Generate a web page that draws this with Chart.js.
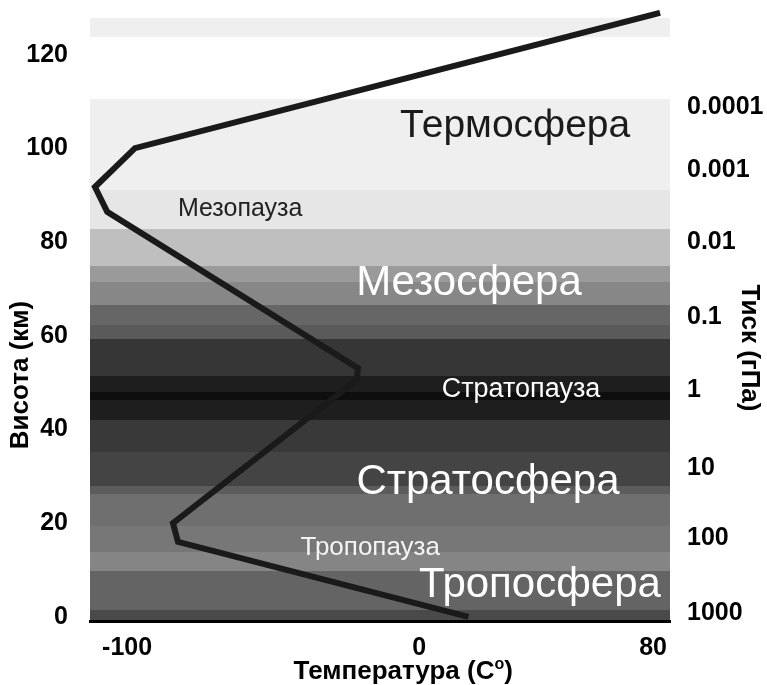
<!DOCTYPE html>
<html>
<head>
<meta charset="utf-8">
<script src="https://cdn.jsdelivr.net/npm/chart.js@4.4.1/dist/chart.umd.min.js"></script>
<style>
  html, body { margin: 0; padding: 0; background: #fff; }
  #wrap { width: 767px; height: 685px; }
</style>
</head>
<body>
<div id="wrap"><canvas id="atmChart" width="767" height="685"></canvas></div>
<script>
// температурний профіль атмосфери: температура (°C) і висота (км)
const profileTemp = [16.8, -82.6, -84.3, -21.4, -21.0, -106.8, -111.0, -97.3, 82.4];
const profileAlt = [0, 16.0, 20.0, 50.6, 53.1, 86.5, 91.8, 100.1, 129];

const altTicks = [0, 20, 40, 60, 80, 100, 120];
const tempTicks = [-100, 0, 80];

// тиск на правій осі
const pressureLabels = ["1000", "100", "10", "1", "0.1", "0.01", "0.001", "0.0001"];
const pressureAlt = [0.85, 16.9, 31.8, 48.5, 64.1, 80.1, 95.4, 108.9];

// смуги фону (км)
const bandBottom = [123.9, 91.2, 82.9, 74.9, 71.6, 66.6, 62.4, 59.4, 51.5, 48.0, 46.3, 42.1, 35.3, 28.0, 26.3, 19.3, 13.8, 9.7, 1.5, -0.9];
const bandTop = [127.9, 110.6, 91.2, 82.9, 74.9, 71.6, 66.6, 62.4, 59.4, 51.5, 48.0, 46.3, 42.1, 35.3, 28.0, 26.3, 19.3, 13.8, 9.7, 1.5];
const bandShade = ["#efefef", "#efefef", "#e6e6e6", "#bfbfbf", "#9a9a9a", "#878787", "#666666", "#5a5a5a", "#363636", "#1e1e1e",
  "#0e0e0e", "#1e1e1e", "#393939", "#444444", "#5c5c5c", "#6f6f6f", "#777777", "#858585", "#646464", "#4a4a4a"];

// назви шарів
const layerNames = ["Термосфера", "Мезопауза", "Мезосфера", "Стратопауза", "Стратосфера", "Тропопауза", "Тропосфера"];
const layerTemp = [32.8, -61.3, 17.0, 34.8, 23.5, -16.8, 41.3];
const layerAlt = [102.5, 85.6, 68.7, 47.0, 26.2, 13.2, 4.3];

const layerStyle = [
  { size: 39, color: "#1b1b1b" },
  { size: 25, color: "#222222" },
  { size: 42, color: "#ffffff" },
  { size: 27, color: "#ffffff" },
  { size: 42, color: "#ffffff" },
  { size: 26, color: "#f4f4f4" },
  { size: 42, color: "#ffffff" }
];

const FONT = "'Liberation Sans', Arial, sans-serif";
const TITLE_FONT = "bold 26px " + FONT;

const atmospherePlugin = {
  id: "atmosphere",
  beforeDraw(chart) {
    const { ctx, chartArea, scales: { y } } = chart;
    ctx.save();
    bandBottom.forEach((b, i) => {
      const top = Math.round(y.getPixelForValue(bandTop[i]));
      const bottom = Math.round(y.getPixelForValue(b));
      ctx.fillStyle = bandShade[i];
      ctx.fillRect(chartArea.left, top, chartArea.right - chartArea.left, bottom - top);
    });
    ctx.restore();
  },
  afterDatasetsDraw(chart) {
    const { ctx, scales: { x, y } } = chart;
    ctx.save();
    ctx.textAlign = "center";
    ctx.textBaseline = "alphabetic";
    layerNames.forEach((name, i) => {
      ctx.font = layerStyle[i].size + "px " + FONT;
      ctx.fillStyle = layerStyle[i].color;
      ctx.fillText(name, x.getPixelForValue(layerTemp[i]), y.getPixelForValue(layerAlt[i]));
    });

    // підписи осей
    ctx.fillStyle = "#000";
    ctx.font = TITLE_FONT;
    ctx.textBaseline = "middle";
    ctx.save();
    ctx.translate(21, 375);
    ctx.rotate(-Math.PI / 2);
    ctx.fillText("Висота (км)", 0, 0);
    ctx.restore();
    ctx.save();
    ctx.translate(749, 348);
    ctx.rotate(Math.PI / 2);
    ctx.fillText("Тиск (гПа)", 0, 0);
    ctx.restore();

    // підпис осі X з надрядковим "o"
    const main = "Температура (C";
    ctx.textBaseline = "alphabetic";
    ctx.font = TITLE_FONT;
    const wMain = ctx.measureText(main).width;
    const wClose = ctx.measureText(")").width;
    ctx.font = "bold 16px " + FONT;
    const wSup = ctx.measureText("o").width;
    const total = wMain + wSup + wClose;
    const cx = x.getPixelForValue(-5.5);
    const base = 679;
    const left = cx - total / 2;
    ctx.textAlign = "left";
    ctx.font = TITLE_FONT;
    ctx.fillText(main, left, base);
    ctx.font = "bold 16px " + FONT;
    ctx.fillText("o", left + wMain, base - 10);
    ctx.font = TITLE_FONT;
    ctx.fillText(")", left + wMain + wSup, base);
    ctx.restore();
  }
};

const ctx = document.getElementById("atmChart").getContext("2d");
new Chart(ctx, {
  type: "scatter",
  data: {
    datasets: [{
      data: profileTemp.map((t, i) => ({ x: t, y: profileAlt[i] })),
      showLine: true,
      borderColor: "#1a1a1a",
      borderWidth: 6,
      borderJoinStyle: "miter",
      pointRadius: 0,
      yAxisID: "y"
    }]
  },
  options: {
    responsive: false,
    devicePixelRatio: 1,
    animation: false,
    layout: { padding: { top: 10, left: 0, right: 0, bottom: 0 } },
    plugins: { legend: { display: false }, tooltip: { enabled: false } },
    scales: {
      x: {
        type: "linear",
        min: -112.7,
        max: 85.8,
        afterBuildTicks: s => { s.ticks = tempTicks.map(v => ({ value: v })); },
        afterFit: s => { s.height = 64; s.paddingLeft = 0; s.paddingRight = 0; },
        ticks: { color: "#000", font: { family: FONT, size: 25, weight: "bold" }, padding: 12, maxRotation: 0 },
        grid: { display: false, drawTicks: false },
        border: { display: true, color: "#000", width: 3 }
      },
      y: {
        type: "linear",
        position: "left",
        min: -0.9,
        max: 129.6,
        afterBuildTicks: s => { s.ticks = altTicks.map(v => ({ value: v })); },
        afterFit: s => { s.width = 90; s.paddingTop = 0; s.paddingBottom = 0; },
        ticks: { color: "#000", font: { family: FONT, size: 25, weight: "bold" }, padding: 22 },
        grid: { display: false, drawTicks: false },
        border: { display: false }
      },
      y2: {
        type: "linear",
        position: "right",
        min: -0.9,
        max: 129.6,
        afterBuildTicks: s => { s.ticks = pressureAlt.map(v => ({ value: v })); },
        afterFit: s => { s.width = 97; s.paddingTop = 0; s.paddingBottom = 0; },
        ticks: { color: "#000", font: { family: FONT, size: 25, weight: "bold" }, padding: 17, callback: (v, i) => pressureLabels[i] },
        grid: { display: false, drawTicks: false },
        border: { display: false }
      }
    }
  },
  plugins: [atmospherePlugin]
});
</script>
</body>
</html>
